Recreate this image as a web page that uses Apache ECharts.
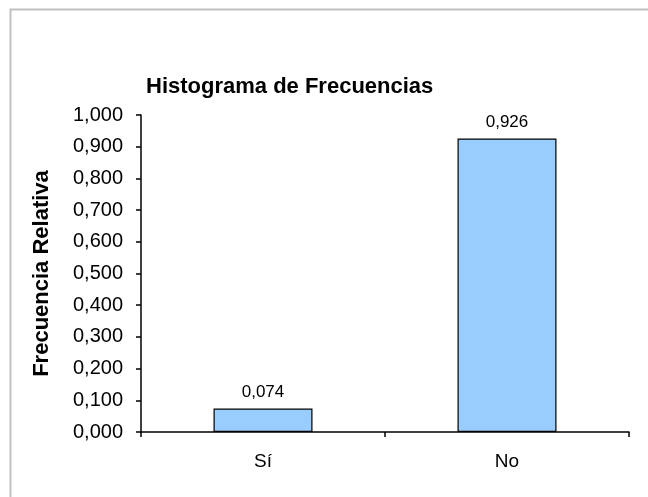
<!DOCTYPE html>
<html>
<head>
<meta charset="utf-8">
<script src="https://cdn.jsdelivr.net/npm/echarts@6/dist/echarts.min.js"></script>
<style>
html,body{margin:0;padding:0;background:#fff;}
#chart{width:648px;height:497px;}
</style>
</head>
<body>
<div id="chart"></div>
<script>
var categories = ['Sí', 'No'];
var relFreq = [0.074, 0.926];
var yMin = 0, yMax = 1, yStep = 0.1;
var titleText = 'Histograma de Frecuencias';
var yName = 'Frecuencia Relativa';

function fmt(v) { return v.toFixed(3).replace('.', ','); }

var chart = echarts.init(document.getElementById('chart'));
var FONT = '"Liberation Sans", Arial, sans-serif';
chart.setOption({
  backgroundColor: '#ffffff',
  animation: false,
  graphic: [{
    type: 'rect', left: 8, top: 7, silent: true,
    shape: { width: 700, height: 600 },
    style: { fill: 'none', stroke: '#c0c0c0', lineWidth: 2 }
  }],
  title: {
    text: titleText,
    left: 146, top: 76, padding: 0,
    textStyle: { fontFamily: FONT, fontSize: 22, fontWeight: 'bold', color: '#000' }
  },
  grid: { left: 141, right: 19, top: 115, bottom: 65, containLabel: false },
  xAxis: {
    type: 'category',
    data: categories,
    boundaryGap: true,
    axisLine: { lineStyle: { color: '#000', width: 1.5 } },
    axisTick: { show: true, length: 5, lineStyle: { color: '#000', width: 1.5 } },
    axisLabel: { margin: 20, fontFamily: FONT, fontSize: 19, color: '#000' },
    splitLine: { show: false }
  },
  yAxis: {
    type: 'value',
    min: yMin, max: yMax, interval: yStep,
    name: yName,
    nameLocation: 'middle',
    nameGap: 88,
    nameTextStyle: { fontFamily: FONT, fontSize: 22, fontWeight: 'bold', color: '#000' },
    axisLine: { show: true, lineStyle: { color: '#000', width: 1.5 } },
    axisTick: { show: true, length: 5, lineStyle: { color: '#000', width: 1.5 } },
    axisLabel: { margin: 18, fontFamily: FONT, fontSize: 20, color: '#000', formatter: fmt },
    splitLine: { show: false }
  },
  series: [{
    type: 'bar',
    data: relFreq,
    barWidth: 99,
    itemStyle: { color: '#99ccff', borderColor: '#000', borderWidth: 1.2 },
    label: {
      show: true, position: 'top', distance: 8,
      fontFamily: FONT, fontSize: 17, color: '#000',
      formatter: function (p) { return fmt(p.value); }
    }
  }]
});
</script>
</body>
</html>
